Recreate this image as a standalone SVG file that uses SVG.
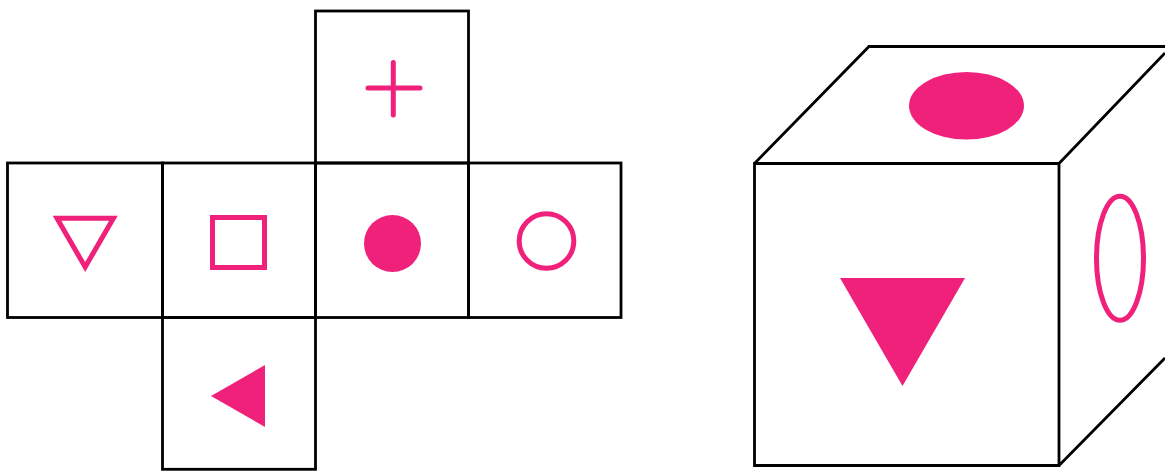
<svg xmlns="http://www.w3.org/2000/svg" width="1165" height="471" viewBox="0 0 1165 471">
<style>
.e{fill:none;stroke:#000;stroke-width:2.8;stroke-linejoin:miter}
.p{fill:#f0217b}
.o{fill:none;stroke:#f0217b;stroke-width:5}
</style>
<rect width="1165" height="471" fill="#fff"/>
<g id="net-top"><rect class="e" x="315.500" y="11" width="153" height="152"/><path d="M368 88H420M393.300 62.500V115" fill="none" stroke="#f0217b" stroke-width="5" stroke-linecap="round"/></g>
<g id="net-left"><rect class="e" x="7.500" y="163" width="155" height="154.500"/><polygon class="o" points="57,218.200 113.400,218.200 85.200,267"/></g>
<g id="net-square"><rect class="e" x="162.500" y="163" width="153" height="154.500"/><rect class="o" x="212.500" y="217.500" width="52" height="50"/></g>
<g id="net-center"><rect class="e" x="315.500" y="163" width="153" height="154.500"/><circle class="p" cx="392.500" cy="243.500" r="28.500"/></g>
<g id="net-right"><rect class="e" x="468.500" y="163" width="152.500" height="154.500"/><circle class="o" cx="546.500" cy="241" r="27.300"/></g>
<g id="net-bottom"><rect class="e" x="162.500" y="317.500" width="153" height="151.800"/><polygon class="p" points="211,396 265,365 265,427"/></g>
<g id="cube"><path class="e" d="M754.500 163.500H1059V465.500H754.500ZM754.500 163.500L869 46.500H1165M1059 163.500L1165 53M1059 465.500L1165 358"/>
<ellipse class="p" cx="966.500" cy="105.800" rx="57.500" ry="33.800"/>
<polygon class="p" points="840,278 965,278 902.500,386"/>
<ellipse class="o" cx="1120" cy="258.300" rx="23.500" ry="62"/></g>
</svg>
